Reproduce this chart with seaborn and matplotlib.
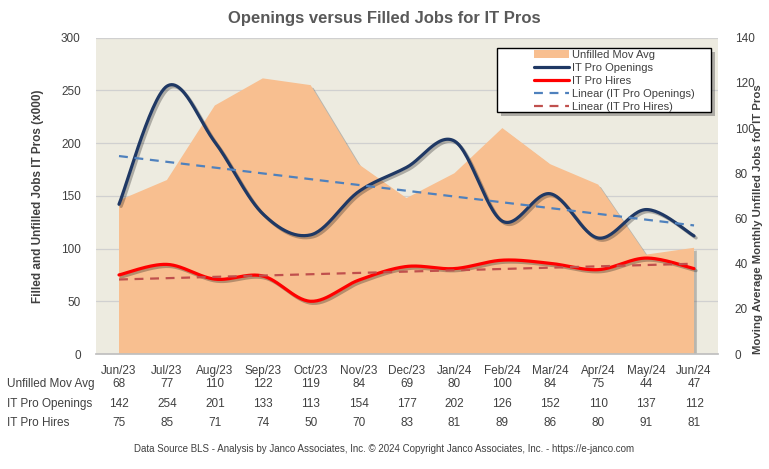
import numpy as np
import pandas as pd
import seaborn as sns
import matplotlib
matplotlib.use("Agg")
import matplotlib.pyplot as plt
import matplotlib.patheffects as pe
from matplotlib.patches import Patch, Rectangle
from matplotlib.lines import Line2D
from matplotlib.transforms import blended_transform_factory

months = ["Jun/23", "Jul/23", "Aug/23", "Sep/23", "Oct/23", "Nov/23", "Dec/23",
          "Jan/24", "Feb/24", "Mar/24", "Apr/24", "May/24", "Jun/24"]
unfilled_mov_avg = [68, 77, 110, 122, 119, 84, 69, 80, 100, 84, 75, 44, 47]
openings = [142, 254, 201, 133, 113, 154, 177, 202, 126, 152, 110, 137, 112]
hires = [75, 85, 71, 74, 50, 70, 83, 81, 89, 86, 80, 91, 81]

sns.set_theme(style="white")
plt.rcParams['font.family'] = ['Liberation Sans', 'DejaVu Sans']
TXT = "#404040"
FS = 8.5
W, H = 769, 469


def smooth(y, n=30):
    # Excel-style smoothed line (Bezier through the points)
    y = np.asarray(y, float)
    x = np.arange(len(y), dtype=float)
    xs, ys = [], []
    for i in range(len(y) - 1):
        p0 = (x[max(i - 1, 0)], y[max(i - 1, 0)])
        p1 = (x[i], y[i])
        p2 = (x[i + 1], y[i + 1])
        p3 = (x[min(i + 2, len(y) - 1)], y[min(i + 2, len(y) - 1)])
        c1 = (p1[0] + (p2[0] - p0[0]) / 6, p1[1] + (p2[1] - p0[1]) / 6)
        c2 = (p2[0] - (p3[0] - p1[0]) / 6, p2[1] - (p3[1] - p1[1]) / 6)
        t = np.linspace(0, 1, n, endpoint=(i == len(y) - 2))
        for k in range(2):
            pts = [p1[k], c1[k], c2[k], p2[k]]
            v = ((1 - t) ** 3 * pts[0] + 3 * (1 - t) ** 2 * t * pts[1]
                 + 3 * (1 - t) * t ** 2 * pts[2] + t ** 3 * pts[3])
            (xs if k == 0 else ys).append(v)
    return np.concatenate(xs), np.concatenate(ys)


fig = plt.figure(figsize=(7.69, 4.69), dpi=100)
ax2 = fig.add_axes([96 / W, 1 - 354 / H, (718 - 96) / W, (354 - 37.7) / H])
ax = ax2.twinx()
ax.set_zorder(ax2.get_zorder() + 1)
ax.patch.set_visible(False)
ax2.set_facecolor("#EDEBE0")

x = np.arange(len(months))

# gridlines (primary scale) drawn on the back axis
for v in range(50, 301, 50):
    ax2.axhline(v * 140 / 300, color="#D0D0D0", lw=0.9, zorder=0)

shadow_patch = [pe.SimplePatchShadow(offset=(2, -2), alpha=0.35, shadow_rgbFace="#555555"), pe.Normal()]
area = ax2.fill_between(x, 0, unfilled_mov_avg, color="#F8BF90", lw=0, zorder=1)
area.set_path_effects(shadow_patch)

shadow_line = [pe.SimpleLineShadow(offset=(1.5, -1.5), alpha=0.3), pe.Normal()]
ox, oy = smooth(openings)
hx, hy = smooth(hires)
df_o = pd.DataFrame({"x": ox, "y": oy})
df_h = pd.DataFrame({"x": hx, "y": hy})
sns.lineplot(data=df_o, x="x", y="y", ax=ax, color="#1F3864", lw=2.3, sort=False,
             path_effects=shadow_line)
sns.lineplot(data=df_h, x="x", y="y", ax=ax, color="#FF0000", lw=2.3, sort=False,
             path_effects=shadow_line)

po = np.polyfit(x, openings, 1)
ph = np.polyfit(x, hires, 1)
ax.plot(x, np.polyval(po, x), color="#4F81BD", lw=1.6, ls=(0, (4, 3)))
ax.plot(x, np.polyval(ph, x), color="#C0504D", lw=1.6, ls=(0, (4, 3)))

# axes: swap sides so primary (0-300) is on the left
ax.yaxis.set_label_position("left")
ax.yaxis.tick_left()
ax2.yaxis.set_label_position("right")
ax2.yaxis.tick_right()
ax.set_ylim(0, 300)
ax2.set_ylim(0, 140)
ax.set_yticks(range(0, 301, 50))
ax2.set_yticks(range(0, 141, 20))
ax.set_xlim(-0.48, len(months) - 0.5)
ax2.set_xlim(-0.48, len(months) - 0.5)
ax.set_xticks(x)
ax.set_xticklabels([])
ax2.set_xticks(x)
ax2.set_xticklabels(months, fontsize=FS, color=TXT)
ax.tick_params(axis="y", length=0, labelsize=FS, labelcolor=TXT, pad=11)
ax2.tick_params(axis="y", length=0, labelsize=FS, labelcolor=TXT, pad=12)
ax2.tick_params(axis="x", length=0, pad=8)
ax.tick_params(axis="x", length=0)
ax.set_xlabel("")
ax.set_ylabel("Filled and Unfilled Jobs IT Pros (x000)", fontsize=FS,
              fontweight="bold", color=TXT, labelpad=12)
ax2.set_ylabel("Moving Average Monthly Unfilled Jobs for IT Pros", fontsize=8.2,
               fontweight="bold", color=TXT)
ax2.yaxis.set_label_coords((753 - 96) / 622, (354 - 219) / (354 - 37.7))
for a in (ax, ax2):
    for s in a.spines.values():
        s.set_visible(False)
ax2.spines["bottom"].set_visible(True)
ax2.spines["bottom"].set_color("#BFBFBF")

fig.text(0.5, 1 - 19 / H, "Openings versus Filled Jobs for IT Pros", ha="center", va="center",
         fontsize=12, fontweight="bold", color="#595959")

# legend box (Excel style: white box with black border and drop shadow)
box = Rectangle((497 / W, 1 - 112 / H), (711 - 497) / W, (112 - 48) / H,
                transform=fig.transFigure, facecolor="white", edgecolor="black",
                lw=1.0, zorder=10,
                path_effects=[pe.SimplePatchShadow(offset=(3, -3), alpha=0.4), pe.Normal()])
fig.patches.append(box)
handles = [
    Patch(facecolor="#F8BF90", edgecolor="none", label="Unfilled Mov Avg"),
    Line2D([], [], color="#1F3864", lw=2.3, label="IT Pro Openings"),
    Line2D([], [], color="#FF0000", lw=2.3, label="IT Pro Hires"),
    Line2D([], [], color="#4F81BD", lw=1.6, ls=(0, (4, 3)), label="Linear (IT Pro Openings)"),
    Line2D([], [], color="#C0504D", lw=1.6, ls=(0, (4, 3)), label="Linear (IT Pro Hires)"),
]
leg = fig.legend(handles=handles, loc="upper left", bbox_to_anchor=(532 / W, 1 - 48 / H),
                 fontsize=8, frameon=False, handlelength=3.1, labelspacing=0.27,
                 borderpad=0.2, handletextpad=0.3, borderaxespad=0)
leg.set_zorder(11)
for t in leg.get_texts():
    t.set_color(TXT)

# data table under the chart
tr = blended_transform_factory(ax.transData, fig.transFigure)
rows = [("Unfilled Mov Avg", unfilled_mov_avg, 384),
        ("IT Pro Openings", openings, 404),
        ("IT Pro Hires", hires, 423)]
for label, vals, ypix in rows:
    yf = 1 - ypix / H
    fig.text(7 / W, yf, label, ha="left", va="center", fontsize=FS, color=TXT)
    for xi, v in zip(x, vals):
        ax.text(xi, yf, str(v), transform=tr, ha="center", va="center", fontsize=FS,
                color=TXT, clip_on=False)

fig.text(0.5, 1 - 449 / H,
         "Data Source BLS - Analysis by Janco Associates, Inc. \u00a9 2024 Copyright Janco Associates, Inc. - https://e-janco.com",
         ha="center", va="center", fontsize=7, color=TXT)

fig.savefig("out.png", dpi=100, facecolor="white")
